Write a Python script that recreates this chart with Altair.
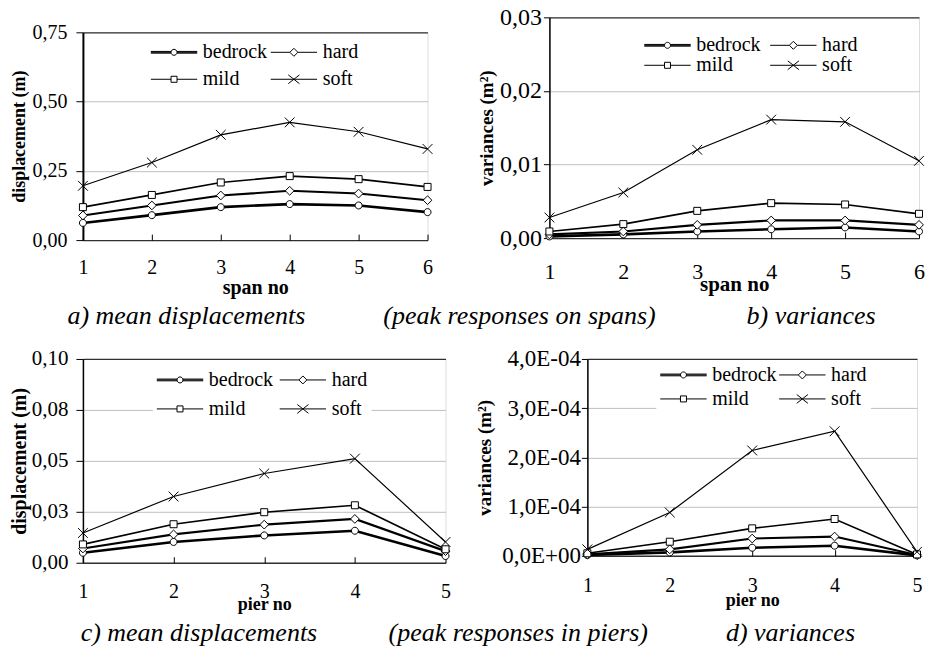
import altair as alt
import pandas as pd

SERIES = ["bedrock", "hard", "mild", "soft"]
LEGEND_ORDER = ["bedrock", "mild", "hard", "soft"]  # legend fills column by column
SPAN_NO = [1, 2, 3, 4, 5, 6]
PIER_NO = [1, 2, 3, 4, 5]

# a) mean displacements on spans (m)
SPAN_MEAN_BEDROCK = [0.062, 0.090, 0.119, 0.130, 0.125, 0.101]
SPAN_MEAN_HARD = [0.089, 0.125, 0.161, 0.178, 0.168, 0.144]
SPAN_MEAN_MILD = [0.119, 0.163, 0.208, 0.231, 0.220, 0.192]
SPAN_MEAN_SOFT = [0.196, 0.280, 0.380, 0.425, 0.391, 0.329]

# b) variances on spans (m^2)
SPAN_VAR_BEDROCK = [0.00023, 0.0005, 0.0009, 0.0012, 0.00145, 0.0009]
SPAN_VAR_HARD = [0.0005, 0.0009, 0.0018, 0.0024, 0.0024, 0.0018]
SPAN_VAR_MILD = [0.0009, 0.0019, 0.0037, 0.00475, 0.00457, 0.0033]
SPAN_VAR_SOFT = [0.0028, 0.0062, 0.0120, 0.0161, 0.0158, 0.0105]

# c) mean displacements in piers (m)
PIER_MEAN_BEDROCK = [0.0049, 0.0102, 0.0134, 0.0157, 0.0033]
PIER_MEAN_HARD = [0.0070, 0.0139, 0.0187, 0.0215, 0.0057]
PIER_MEAN_MILD = [0.0090, 0.0189, 0.0248, 0.0282, 0.0066]
PIER_MEAN_SOFT = [0.0146, 0.0325, 0.0438, 0.0511, 0.0102]

# d) variances in piers (m^2)
PIER_VAR_BEDROCK = [1.4e-6, 6.8e-6, 1.63e-5, 2.04e-5, 0.7e-6]
PIER_VAR_HARD = [2.7e-6, 1.3e-5, 3.5e-5, 3.9e-5, 1.4e-6]
PIER_VAR_MILD = [5.0e-6, 2.85e-5, 5.57e-5, 7.47e-5, 2.7e-6]
PIER_VAR_SOFT = [1.3e-5, 8.8e-5, 2.14e-4, 2.53e-4, 8.0e-6]

A_TICKS = [0, 0.25, 0.5, 0.75]
A_LABELS = ["0,00", "0,25", "0,50", "0,75"]
B_TICKS = [0, 0.01, 0.02, 0.03]
B_LABELS = ["0,00", "0,01", "0,02", "0,03"]
C_TICKS = [0, 0.025, 0.05, 0.075, 0.1]
C_LABELS = ["0,00", "0,03", "0,05", "0,08", "0,10"]
D_TICKS = [0, 1e-4, 2e-4, 3e-4, 4e-4]
D_LABELS = ["0,0E+00", "1,0E-04", "2,0E-04", "3,0E-04", "4,0E-04"]

CAPTION_A = "a) mean displacements"
CAPTION_AB = "(peak responses on spans)"
CAPTION_B = "b) variances"
CAPTION_C = "c) mean displacements"
CAPTION_CD = "(peak responses in piers)"
CAPTION_D = "d) variances"

FONT = "Liberation Serif"

MARKER_PATHS = [
    "M1,0A1,1,0,1,1,-1,0A1,1,0,1,1,1,0Z",
    "M0,-1.25L1.25,0L0,1.25L-1.25,0Z",
    "M-1,-1H1V1H-1Z",
    "M-1.4,-1.4L1.4,1.4M-1.4,1.4L1.4,-1.4",
]
LEGEND_PATHS = {
    "bedrock": "M-5.8,-0.22H-0.72M0.72,-0.22H5.8M-5.8,0H-0.75M0.75,0H5.8M-5.8,0.22H-0.72M0.72,0.22H5.8"
               "M0.75,0A0.75,0.75,0,1,1,-0.75,0A0.75,0.75,0,1,1,0.75,0Z",
    "hard": "M-5.8,0H-1M1,0H5.8M0,-1L1,0L0,1L-1,0Z",
    "mild": "M-5.8,0H-0.75M0.75,0H5.8M-0.75,-0.75H0.75V0.75H-0.75Z",
    "soft": "M-5.8,0H5.8M-1.4,-1.1L1.4,1.1M-1.4,1.1L1.4,-1.1",
}


def label_expr(ticks, labels):
    tol = max(ticks) * 1e-6
    expr = "''"
    for t, l in reversed(list(zip(ticks, labels))):
        expr = f"abs(datum.value - ({t!r})) < {tol!r} ? '{l}' : ({expr})"
    return expr


def make_df(xs, values):
    rows = []
    for s, vals in zip(SERIES, values):
        for x, v in zip(xs, vals):
            rows.append({"x": x, "value": v, "series": s})
    return pd.DataFrame(rows)


def panel(xs, values, xtitle, ytitle, yticks, ylabels, w, h, o):
    df = make_df(xs, values)
    ymax = max(yticks)
    inner = f"datum.value > {ymax * 1e-6!r} && datum.value < {ymax * 0.999!r}"
    xenc = alt.X(
        "x:Q",
        scale=alt.Scale(domain=[xs[0], xs[-1]], nice=False, zero=False),
        axis=alt.Axis(
            values=xs, format="d", title=xtitle, grid=False, domain=False,
            offset=-6, tickSize=6, tickColor="black", tickWidth=1,
            labelFont=FONT, labelFontSize=o["xlfs"], labelColor="black",
            labelPadding=o["xlp"], labelFlush=False, labelAngle=0,
            titleFont=FONT, titleFontSize=o["xtfs"], titleFontWeight="bold",
            titleColor="black", titlePadding=o["xtp"],
        ),
    )
    yenc = alt.Y(
        "value:Q",
        scale=alt.Scale(domain=[0, ymax], nice=False, zero=True),
        axis=alt.Axis(
            values=yticks, labelExpr=label_expr(yticks, ylabels), title=ytitle,
            domain=True, domainColor="black", domainWidth=o["ydw"],
            tickSize=o["yts"], tickColor="black", tickWidth=1,
            grid=True,
            gridColor={"condition": {"test": inner, "value": "#c0c0c0"}, "value": "#303030"},
            gridWidth={"condition": {"test": inner, "value": 1}, "value": 1.3},
            labelFont=FONT, labelFontSize=o["ylfs"], labelColor="black",
            labelPadding=o["ylp"],
            titleFont=FONT, titleFontSize=o["ytfs"], titleFontWeight="bold",
            titleColor="black", titlePadding=o["ytp"],
        ),
    )
    base = alt.Chart(df)
    lines = base.mark_line(color="black").encode(
        x=xenc, y=yenc, detail="series:N",
        strokeWidth=alt.StrokeWidth(
            "series:N", scale=alt.Scale(domain=SERIES, range=[2.6, 1.2, 1.2, 1.2]), legend=None
        ),
    )
    points = base.mark_point(
        filled=True, fill="white", stroke="black", strokeWidth=1, size=49, opacity=1
    ).encode(
        x=xenc, y=yenc,
        shape=alt.Shape("series:N", scale=alt.Scale(domain=SERIES, range=MARKER_PATHS), legend=None),
    )
    fs = o["lfs"]
    legend_layer = base.transform_filter("datum.x < 0").mark_point(
        filled=False, color="black", strokeWidth=1, size=64
    ).encode(
        x=xenc, y=yenc,
        shape=alt.Shape(
            "series:N",
            scale=alt.Scale(domain=LEGEND_ORDER, range=[LEGEND_PATHS[s] for s in LEGEND_ORDER]),
            legend=alt.Legend(
                title=None, orient="none", legendX=o["lx"], legendY=o["ly"], columns=2,
                labelFont=FONT, labelFontSize=fs, labelColor="black",
                symbolSize=64, symbolStrokeWidth=1, symbolOpacity=1,
                symbolStrokeColor="black",
                symbolOffset=23.2 - fs / 2, labelOffset=38.8 - fs,
                rowPadding=o["lrp"], columnPadding=o["lcp"],
                fillColor="white", padding=4,
            ),
        ),
    )
    return alt.layer(lines, points, legend_layer).resolve_scale(shape="independent").properties(
        width=w, height=h
    )


pa = panel(
    SPAN_NO, [SPAN_MEAN_BEDROCK, SPAN_MEAN_HARD, SPAN_MEAN_MILD, SPAN_MEAN_SOFT],
    "span no", "displacement (m)", A_TICKS, A_LABELS, 345, 208,
    dict(xlfs=20, xlp=17, xtfs=20, xtp=0, ydw=2, yts=7, ylfs=20, ylp=9, ytfs=18, ytp=3,
         lx=64, ly=6, lfs=20, lrp=7, lcp=1),
)

pb = panel(
    SPAN_NO, [SPAN_VAR_BEDROCK, SPAN_VAR_HARD, SPAN_VAR_MILD, SPAN_VAR_SOFT],
    "span no", "variances (m²)", B_TICKS, B_LABELS, 370, 221,
    dict(xlfs=22, xlp=23, xtfs=21, xtp=-9, ydw=1.5, yts=6, ylfs=24, ylp=2, ytfs=19, ytp=3,
         lx=91, ly=14, lfs=20, lrp=0, lcp=7),
)

pc = panel(
    PIER_NO, [PIER_MEAN_BEDROCK, PIER_MEAN_HARD, PIER_MEAN_MILD, PIER_MEAN_SOFT],
    "pier no", "displacement (m)", C_TICKS, C_LABELS, 363, 204,
    dict(xlfs=20, xlp=19, xtfs=18, xtp=-6, ydw=1.5, yts=7, ylfs=21, ylp=8, ytfs=20, ytp=2,
         lx=70, ly=7, lfs=20, lrp=9, lcp=4),
)

pd_ = panel(
    PIER_NO, [PIER_VAR_BEDROCK, PIER_VAR_HARD, PIER_VAR_MILD, PIER_VAR_SOFT],
    "pier no", "variances (m²)", D_TICKS, D_LABELS, 330, 197,
    dict(xlfs=20, xlp=20, xtfs=18, xtp=-4, ydw=1.5, yts=6, ylfs=23, ylp=1, ytfs=19, ytp=7,
         lx=69, ly=2, lfs=20, lrp=4, lcp=0),
)

# an invisible spacer that lowers panel a relative to panel b
spacer = (
    alt.Chart(pd.DataFrame({"x": [0]}))
    .mark_point(opacity=0)
    .encode(x=alt.X("x:Q", axis=None), y=alt.Y("x:Q", axis=None))
    .properties(width=10, height=2, view=alt.ViewBackground(stroke=None))
)
col_a = alt.vconcat(spacer, pa, spacing=0)

NB = "\u00a0"


def caption(parts, gaps, dx, offset):
    text = parts[0] + NB * gaps[0] + parts[1] + NB * gaps[1] + parts[2]
    return alt.TitleParams(
        text, orient="bottom", anchor="start", font=FONT, fontStyle="italic",
        fontWeight="normal", fontSize=26, color="black", dx=dx, offset=offset,
    )


row1 = alt.hconcat(col_a, pb, spacing=41).properties(
    title=caption([CAPTION_A, CAPTION_AB, CAPTION_B], [12, 14], 57, 5)
)
row2 = alt.hconcat(pc, pd_, spacing=21).properties(
    title=caption([CAPTION_C, CAPTION_CD, CAPTION_D], [11, 12], 72, 6)
)

chart = (
    alt.vconcat(row1, row2, spacing=18)
    .properties(padding={"left": 0, "top": -4, "right": 0, "bottom": 0})
    .configure_view(stroke="#404040", strokeWidth=1)
    .configure(font=FONT)
)

chart.save("out.html", embed_options={"renderer": "svg", "actions": False})
